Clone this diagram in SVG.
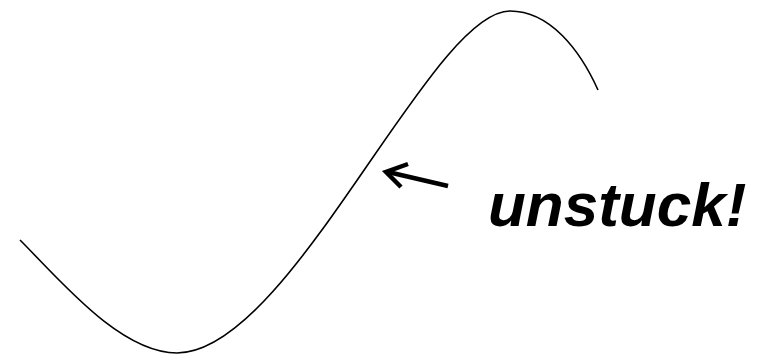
<svg xmlns="http://www.w3.org/2000/svg" width="773" height="355" viewBox="0 0 773 355">
<style>
.curve{fill:none;stroke:#000;stroke-width:1.6}
.arrow{fill:none;stroke:#000;stroke-width:4.5;stroke-linecap:butt;stroke-linejoin:miter}
.label{font-family:"Liberation Sans",Arial,sans-serif;font-weight:bold;font-style:italic;font-size:62px;fill:#000}
</style>
<rect width="773" height="355" fill="#fff"/>
<g id="curve">
<path class="curve" d="M20,240 C60,280 120,353 177,353 C290,353 430,11 510,11 C550,11 580,50 598,90"/>
</g>
<g id="connectors">
<path class="arrow" d="M448,186 L388,172"/>
<path class="arrow" d="M408,164 L386,172 L401,187"/>
</g>
<g id="label">
<text class="label" x="488" y="226">unstuck!</text>
</g>
</svg>
